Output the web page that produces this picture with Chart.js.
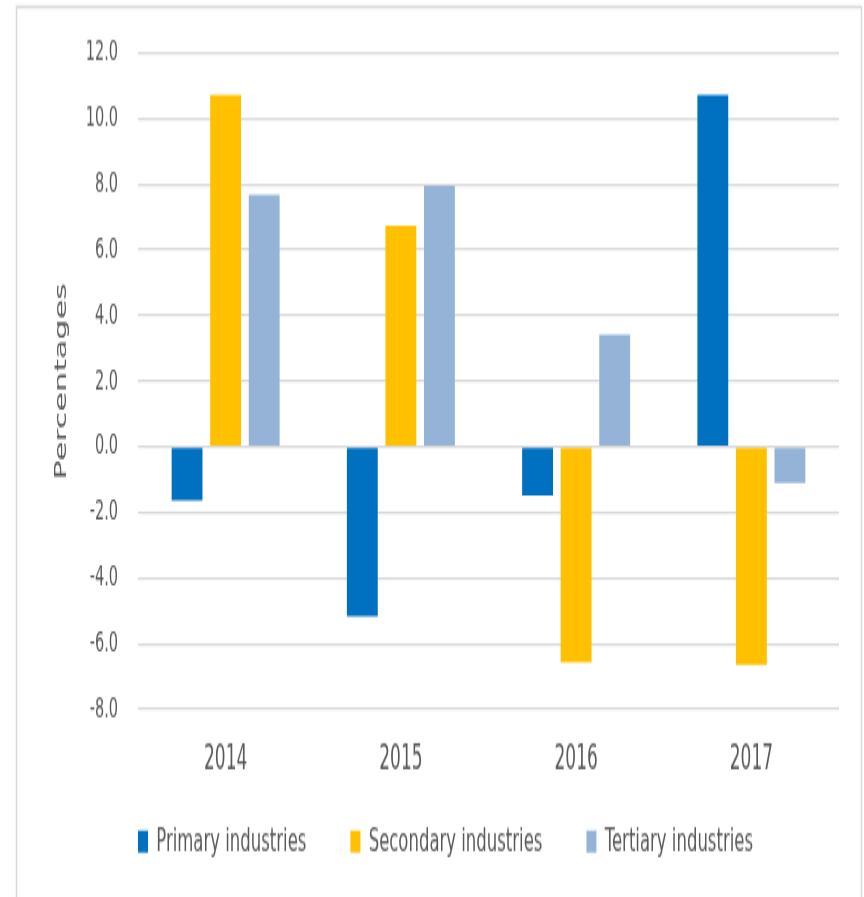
<!DOCTYPE html>
<html>
<head>
<meta charset="utf-8">
<title>Growth by industry</title>
<script src="https://cdn.jsdelivr.net/npm/chart.js@4.4.0/dist/chart.umd.min.js"></script>
<style>
  html, body { margin: 0; padding: 0; background: #fff; overflow: hidden; }
  /* drawn at half height, shown stretched to full height */
  #mycanvas { width: 864px !important; height: 897px !important; display: block; }
</style>
</head>
<body>
<canvas id="mycanvas" width="864" height="449"></canvas>
<script>
var years = ['2014', '2015', '2016', '2017'];
var primary = [-1.64, -5.17, -1.48, 10.72];
var secondary = [10.72, 6.74, -6.57, -6.64];
var tertiary = [7.68, 7.95, 3.41, -1.11];
var yTicks = [-8, -6, -4, -2, 0, 2, 4, 6, 8, 10, 12];

var grey = '#595959';
var sans = "'DejaVu Sans', sans-serif";
var legendPad = 44;

//########################## frame + legend spot ##########################//
var frame = {
  id: 'frame',
  beforeDraw: function(chart) {
    var ctx = chart.ctx;
    ctx.save();
    ctx.strokeStyle = '#d9d9d9';
    ctx.lineWidth = 1.5;
    ctx.strokeRect(16.5, 3.5, 845, 480);
    ctx.restore();
    // legend sits under the left part of the plot, not centred
    chart.legend.left = 138 - legendPad;
    chart.legend.top = 413 - legendPad;
  }
};

var chartdata = {
  labels: years,
  datasets: [
    { label: 'Primary industries', backgroundColor: '#0070C0', data: primary },
    { label: 'Secondary industries', backgroundColor: '#FFC000', data: secondary },
    { label: 'Tertiary industries', backgroundColor: '#95B3D7', data: tertiary }
  ]
};

var ctx = document.getElementById('mycanvas');
var barGraph = new Chart(ctx, {
  type: 'bar',
  data: chartdata,
  plugins: [frame],
  options: {
    responsive: false,
    animation: false,
    devicePixelRatio: 1,
    categoryPercentage: 0.66,
    barPercentage: 0.8,
    layout: { padding: { left: 48.4, right: 25, top: 26.5, bottom: -40 } },
    plugins: {
      tooltip: { enabled: false },
      legend: {
        position: 'bottom',
        align: 'start',
        labels: {
          boxWidth: 10,
          boxHeight: 11,
          padding: legendPad,
          color: grey,
          font: { family: sans, size: 16.5 }
        }
      }
    },
    scales: {
      x: {
        grid: { display: false, drawTicks: false },
        border: { display: false },
        ticks: { color: grey, padding: 15, font: { family: sans, size: 17 } },
        // keeps the plot bottom (-8.0) at the same height whatever the legend takes
        afterFit: function(scale) { scale.height = 134 - scale.chart.legend.height; }
      },
      y: {
        min: yTicks[0],
        max: yTicks[yTicks.length - 1],
        afterBuildTicks: function(scale) {
          scale.ticks = yTicks.map(function(v) { return { value: v }; });
        },
        afterFit: function(scale) { scale.width = 138 - 48.4; },
        grid: { color: '#d9d9d9', lineWidth: 1.2, tickLength: 20, tickColor: 'rgba(0,0,0,0)' },
        border: { display: false },
        ticks: {
          color: grey,
          padding: 0,
          font: { family: sans, size: 14.5 },
          callback: function(v) { return Number(v).toFixed(1); }
        },
        title: {
          display: true,
          text: 'Percentages',
          color: grey,
          font: { family: sans, size: 16 }
        }
      }
    }
  }
});
</script>
</body>
</html>
